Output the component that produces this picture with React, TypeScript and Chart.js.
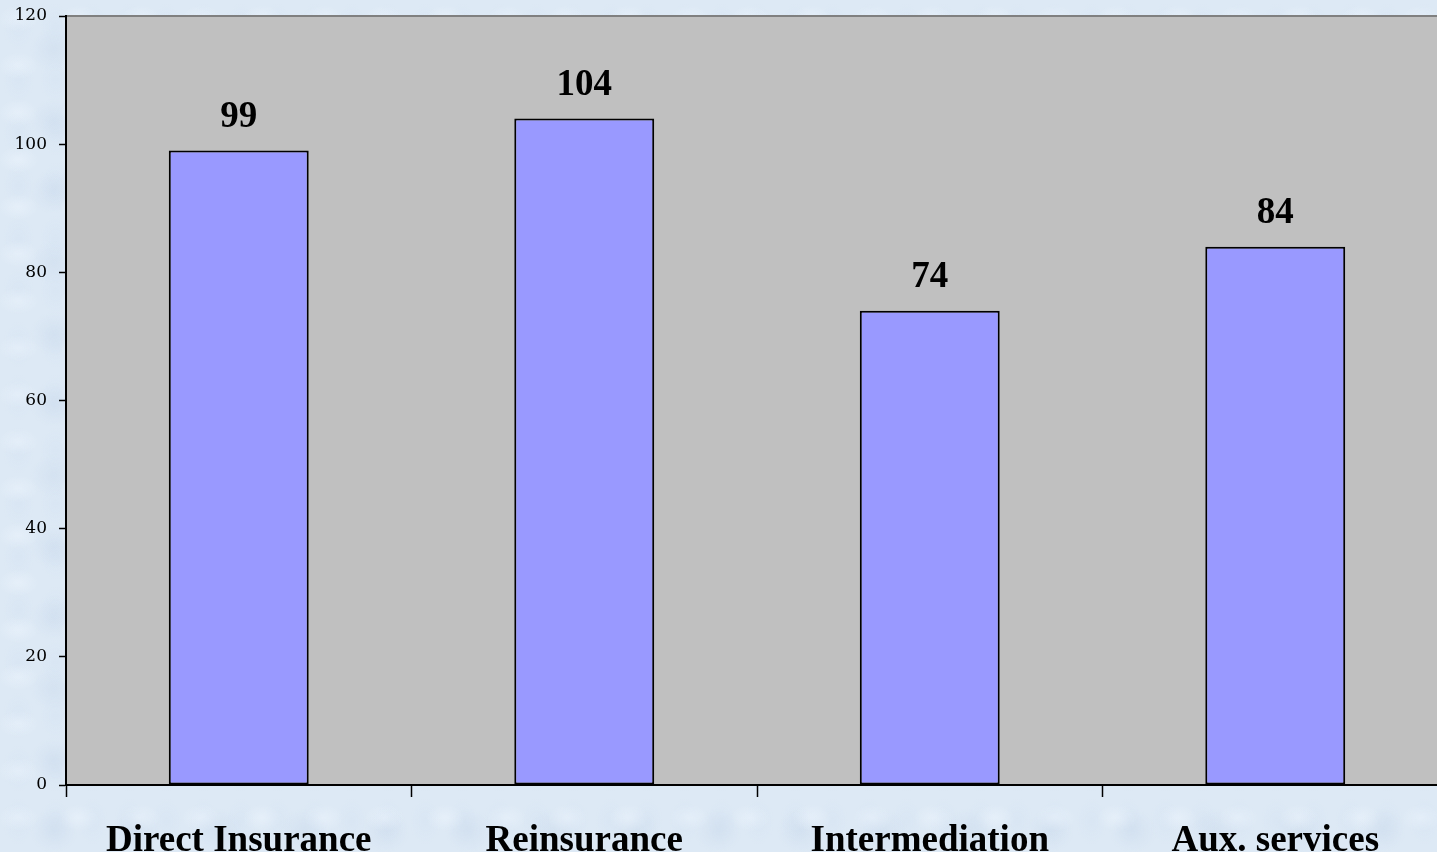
import React, { useEffect, useRef } from "react";
import { Chart, registerables } from "chart.js";

Chart.register(...registerables);

const categories = ["Direct Insurance", "Reinsurance", "Intermediation", "Aux. services"];
const values = [99, 104, 74, 84];
const yTickMin = 0;
const yTickMax = 120;
const yTickStep = 20;

const plotBg = {
  id: "plotBg",
  beforeDraw(chart: any) {
    const { ctx, chartArea } = chart;
    ctx.save();
    ctx.fillStyle = "#C0C0C0";
    ctx.fillRect(chartArea.left, chartArea.top, chartArea.right - chartArea.left, chartArea.bottom - chartArea.top);
    ctx.strokeStyle = "#808080";
    ctx.lineWidth = 2;
    ctx.beginPath();
    ctx.moveTo(chartArea.left, chartArea.top);
    ctx.lineTo(chartArea.right, chartArea.top);
    ctx.stroke();
    ctx.restore();
  },
};

const valueLabels = {
  id: "valueLabels",
  afterDatasetsDraw(chart: any) {
    const { ctx } = chart;
    const meta = chart.getDatasetMeta(0);
    ctx.save();
    ctx.font = "bold 37px 'Liberation Serif', 'Times New Roman', serif";
    ctx.fillStyle = "#000";
    ctx.textAlign = "center";
    ctx.textBaseline = "alphabetic";
    meta.data.forEach((bar: any, i: number) => {
      ctx.fillText(String(chart.data.datasets[0].data[i]), bar.x, bar.y - 24);
    });
    ctx.restore();
  },
};

export default function App() {
  const ref = useRef<HTMLCanvasElement>(null);
  useEffect(() => {
    if (!ref.current) return;
    const chart = new Chart(ref.current, {
      type: "bar",
      data: {
        labels: categories,
        datasets: [
          {
            data: values,
            backgroundColor: "#9999FF",
            borderColor: "#000000",
            borderWidth: 2,
            borderSkipped: false,
            categoryPercentage: 1,
            barPercentage: 0.405,
          },
        ],
      },
      options: {
        responsive: false,
        animation: false,
        devicePixelRatio: 1,
        layout: { padding: { top: 16, left: 0, right: 0, bottom: 0 } },
        plugins: { legend: { display: false }, tooltip: { enabled: false } },
        scales: {
          x: {
            grid: { offset: true, drawOnChartArea: false, color: "#000", tickLength: 12, tickWidth: 1.5 },
            border: { color: "#000", width: 2 },
            ticks: {
              font: { family: "'Liberation Serif', 'Times New Roman', serif", weight: "bold", size: 37 },
              color: "#000",
              padding: 22,
              maxRotation: 0,
              autoSkip: false,
            },
            afterFit: (s: any) => {
              s.height = 95;
              s.paddingLeft = 0;
              s.paddingRight = 0;
            },
          },
          y: {
            min: yTickMin,
            max: yTickMax,
            ticks: {
              stepSize: yTickStep,
              font: { family: "'DejaVu Serif', serif", size: 17 },
              color: "#000",
              padding: 12,
            },
            grid: { drawOnChartArea: false, color: "#000", tickLength: 7, tickWidth: 1.5 },
            border: { color: "#000", width: 2 },
            afterFit: (s: any) => {
              s.width = 66;
              s.paddingTop = 0;
              s.paddingBottom = 0;
            },
          },
        },
      },
      plugins: [plotBg, valueLabels],
    });
    return () => chart.destroy();
  }, []);

  return (
    <div
      style={{
        position: "fixed",
        left: 0,
        top: 0,
        width: 1437,
        height: 852,
        overflow: "hidden",
        backgroundColor: "#DDE9F5",
        backgroundImage:
          "radial-gradient(ellipse at 30% 40%, rgba(240,247,255,0.45) 0, rgba(240,247,255,0) 20px), radial-gradient(ellipse at 65% 70%, rgba(190,208,230,0.28) 0, rgba(190,208,230,0) 24px), radial-gradient(ellipse at 50% 50%, rgba(205,221,240,0.25) 0, rgba(205,221,240,0) 16px)",
        backgroundSize: "61px 47px, 83px 71px, 37px 53px",
      }}
    >
      <canvas ref={ref} width={1448} height={880} style={{ display: "block", width: 1448, height: 880 }} />
    </div>
  );
}
